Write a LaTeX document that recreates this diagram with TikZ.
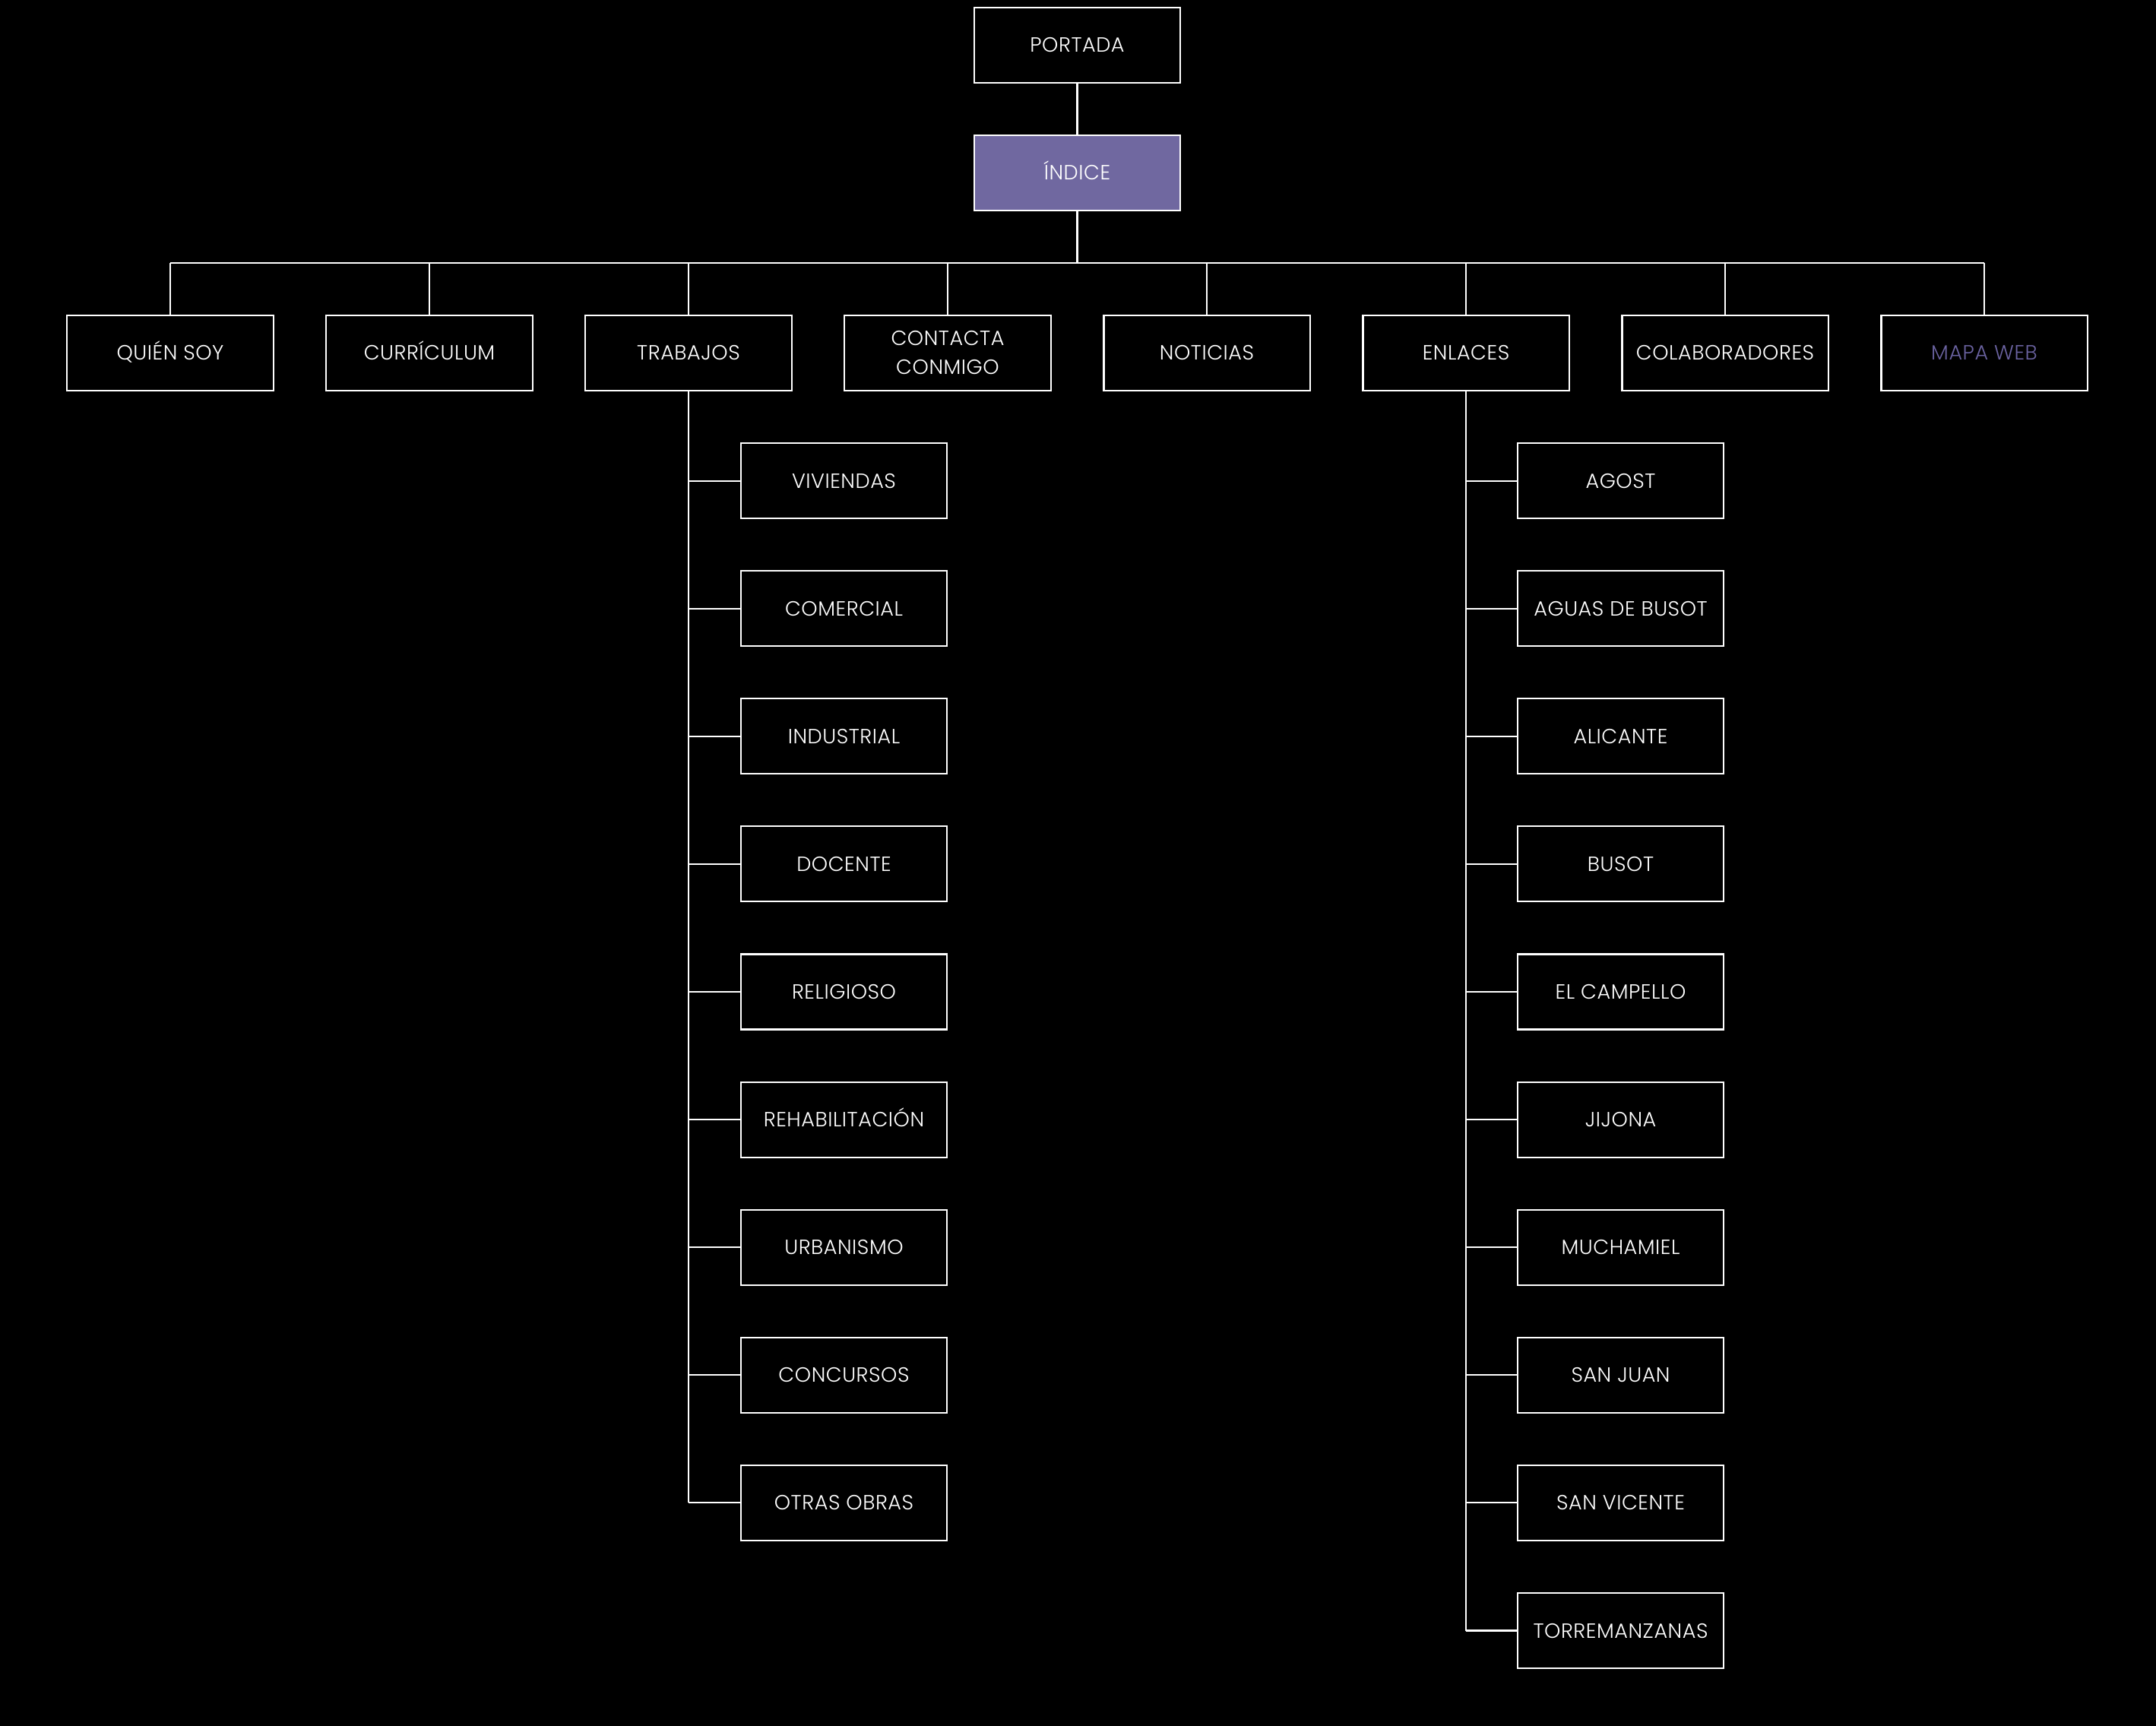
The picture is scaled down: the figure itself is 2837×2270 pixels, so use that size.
\documentclass[tikz,border=0pt]{standalone}
\usepackage{fontspec}
\setmainfont{Poppins}[UprightFont=* Light,LetterSpace=2]
\definecolor{idx}{HTML}{7068A0}
\definecolor{mapa}{HTML}{6A62A0}
\begin{document}
\begin{tikzpicture}[x=0.01cm,y=-0.01cm,
  basebox/.style={draw=white,line width=0.6pt,minimum width=2.71cm,minimum height=0.99cm,
    inner sep=0pt,text=white,font=\fontsize{7.7}{10.8}\selectfont,align=center},
  box/.style={basebox,text height=0.62em,text depth=0.08em},
  conn/.style={draw=white,line width=0.6pt}]
\useasboundingbox (0,0) rectangle (2837,2270);
\fill[black] (-20,-20) rectangle (2857,2290);
\node[box] (portada) at (1417.5,59.5) {PORTADA};
\node[box,fill=idx] (indice) at (1417.5,227.5) {ÍNDICE};
\coordinate (busL) at (224,346);
\coordinate (busR) at (2611,346);
\node[box] (quien) at (224,464.5) {QUIÉN SOY};
\node[box] (curri) at (565,464.5) {CURRÍCULUM};
\node[box] (trab) at (906,464.5) {TRABAJOS};
\node[basebox] (cont) at (1247,464.5) {CONTACTA\\CONMIGO};
\node[box] (noti) at (1588,464.5) {NOTICIAS};
\node[box] (enl) at (1929,464.5) {ENLACES};
\node[box] (colab) at (2270,464.5) {COLABORADORES};
\node[box,text=mapa] (mapa) at (2611,464.5) {MAPA WEB};
\draw[conn] (portada) -- (indice);
\draw[conn] (indice.south) -- (indice.south |- busL);
\draw[conn] (busL) -- (busR);
\foreach \n in {quien,curri,trab,cont,noti,enl,colab,mapa}
  \draw[conn] (\n.north) -- (\n.north |- busL);
% TRABAJOS children
\foreach \t [count=\j] in {VIVIENDAS,COMERCIAL,INDUSTRIAL,DOCENTE,RELIGIOSO,REHABILITACIÓN,URBANISMO,CONCURSOS,OTRAS OBRAS}
  \node[box] (t\j) at (1110.5,464.5+168.1*\j) {\t};
\draw[conn] (trab.south) -- (trab.south |- t9.west);
\foreach \j in {1,...,9}
  \draw[conn] (t\j.west) -- (t\j.west -| trab.south);
% ENLACES children
\foreach \t [count=\j] in {AGOST,AGUAS DE BUSOT,ALICANTE,BUSOT,EL CAMPELLO,JIJONA,MUCHAMIEL,SAN JUAN,SAN VICENTE,TORREMANZANAS}
  \node[box] (e\j) at (2132.5,464.5+168.1*\j) {\t};
\draw[conn] (enl.south) -- (enl.south |- e10.west);
\foreach \j in {1,...,10}
  \draw[conn] (e\j.west) -- (e\j.west -| enl.south);
\end{tikzpicture}
\end{document}
